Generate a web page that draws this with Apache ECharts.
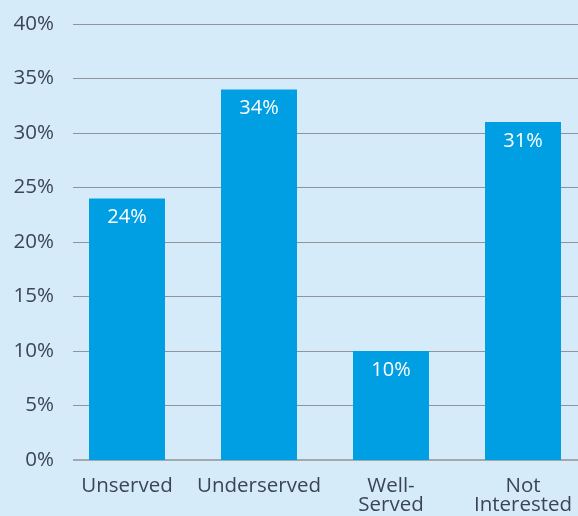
<!DOCTYPE html>
<html><head><meta charset="utf-8">
<script src="https://cdn.jsdelivr.net/npm/echarts@6/dist/echarts.min.js"></script>
<style>html,body{margin:0;padding:0;background:#d5ebfa;}#c{width:578px;height:516px;}</style>
</head><body><div id="c"></div>
<script>
const categories = ["Unserved", "Underserved", "Well-\nServed", "Not\nInterested"];
const values = [24, 34, 10, 31];
const yTicks = [0, 5, 10, 15, 20, 25, 30, 35, 40];

const FONT = "Open Sans";
const chart = echarts.init(document.getElementById('c'));
chart.setOption({
  backgroundColor: '#d5ebfa',
  animation: false,
  grid: [
    {left: 73, right: 0, top: 24, bottom: 56},
    {left: 127, right: 55, top: 24, bottom: 56}
  ],
  xAxis: [
    {type: 'value', gridIndex: 0, show: false, min: 0, max: 1},
    {type: 'category', gridIndex: 1, data: categories, boundaryGap: false,
     axisLine: {show: false}, axisTick: {show: false},
     axisLabel: {color: '#3b4652', fontSize: 20.5, fontFamily: FONT, margin: 17, lineHeight: 19, interval: 0}}
  ],
  yAxis: [
    {type: 'value', gridIndex: 0, min: yTicks[0], max: yTicks[yTicks.length-1], interval: 5,
     axisLine: {show: false}, axisTick: {show: false},
     axisLabel: {formatter: '{value}%', color: '#3b4652', fontSize: 20.5, fontFamily: FONT, margin: 19},
     splitLine: {lineStyle: {color: '#8f9499', width: 1}}},
    {type: 'value', gridIndex: 1, min: yTicks[0], max: yTicks[yTicks.length-1], show: false, splitLine: {show: false}}
  ],
  series: [
    {type: 'line', xAxisIndex: 0, yAxisIndex: 0, data: [[0,0],[1,0]], symbol: 'none',
     lineStyle: {color: '#a3a8ad', width: 2}, silent: true, z: 1},
    {type: 'bar', xAxisIndex: 1, yAxisIndex: 1, data: values, barWidth: 76,
     itemStyle: {color: '#009fe3'}, z: 2,
     label: {show: true, position: 'insideTop', distance: 9, formatter: '{c}%', color: '#ffffff', fontSize: 20, fontFamily: FONT}}
  ]
});
</script></body></html>
